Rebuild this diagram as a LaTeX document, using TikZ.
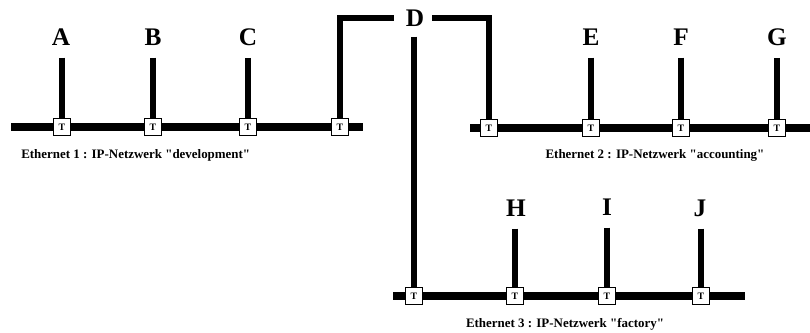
\documentclass[tikz,border=0pt]{standalone}
\usepackage{fontspec}
\setmainfont{Liberation Serif}
\usetikzlibrary{backgrounds, calc}
\tikzset{
  tap/.style={draw=black, line width=0.6pt, fill=white, minimum size=0.42cm,
    inner sep=0pt, font=\bfseries\fontsize{7}{8}\selectfont},
  host/.style={inner sep=0pt, font=\bfseries\fontsize{18}{20}\selectfont},
  bus/.style={line width=0.2cm, draw=black},
  stub/.style={line width=0.17cm, draw=black, shorten <=0.3cm},
  link/.style={line width=0.16cm, draw=black, line join=miter},
  netlabel/.style={inner sep=0pt, font=\bfseries\fontsize{9.2}{10}\selectfont},
}
\begin{document}
\begin{tikzpicture}[x=0.025cm, y=-0.025cm]
    \useasboundingbox (0,0) rectangle (810,333);
    % ethernet 1 : development
    \coordinate (n1w) at (11,127);
    \coordinate (n1e) at (363,127);
    \node[tap] (t1a) at (62,127) {T};
    \node[tap] (t1b) at (153,127) {T};
    \node[tap] (t1c) at (248,127) {T};
    \node[tap] (t1d) at (340,127) {T};
    \node[host] (A) at (61,37) {A};
    \node[host] (B) at (153,37) {B};
    \node[host] (C) at (248,37) {C};
    \node[netlabel, anchor=west] (net1) at (21,155) {Ethernet 1 : IP-Netzwerk \textquotedbl development\textquotedbl};
    % ethernet 2 : accounting
    \coordinate (n2w) at (470,128);
    \coordinate (n2e) at (812,128);
    \node[tap] (t2a) at (489,128) {T};
    \node[tap] (t2b) at (591,128) {T};
    \node[tap] (t2c) at (681,128) {T};
    \node[tap] (t2d) at (777,128) {T};
    \node[host] (E) at (591,37) {E};
    \node[host] (F) at (681,37) {F};
    \node[host] (G) at (777,37) {G};
    \node[netlabel] (net2) at (655,155) {Ethernet 2 : IP-Netzwerk \textquotedbl accounting\textquotedbl};
    % ethernet 3 : factory
    \coordinate (n3w) at (393,296);
    \coordinate (n3e) at (745,296);
    \node[tap] (t3a) at (414,296) {T};
    \node[tap] (t3b) at (515,296) {T};
    \node[tap] (t3c) at (607,296) {T};
    \node[tap] (t3d) at (701,296) {T};
    \node[host] (H) at (516,208) {H};
    \node[host] (I) at (607,207) {I};
    \node[host] (J) at (700,208) {J};
    \node[netlabel] (net3) at (565,324) {Ethernet 3 : IP-Netzwerk \textquotedbl factory\textquotedbl};
    % router
    \node[host] (D) at (415,18) {D};
    \begin{scope}[on background layer]
      \draw[bus] (n1w) -- (n1e);
      \draw[bus] (n2w) -- (n2e);
      \draw[bus] (n3w) -- (n3e);
      \draw[stub] (t1a.center |- A.south) -- (t1a.center);
      \draw[stub] (t1b.center |- B.south) -- (t1b.center);
      \draw[stub] (t1c.center |- C.south) -- (t1c.center);
      \draw[stub] (t2b.center |- E.south) -- (t2b.center);
      \draw[stub] (t2c.center |- F.south) -- (t2c.center);
      \draw[stub] (t2d.center |- G.south) -- (t2d.center);
      \draw[stub] (t3b.center |- H.south) -- (t3b.center);
      \draw[stub] (t3c.center |- I.south) -- (t3c.center);
      \draw[stub] (t3d.center |- J.south) -- (t3d.center);
      \draw[link, shorten <=0.3cm] (D.west) -| (t1d.center);
      \draw[link, shorten <=0.2cm] (D.east) -| (t2a.center);
      \draw[link, shorten <=0.25cm] (t3a.center |- D.south) -- (t3a.center);
    \end{scope}
  \end{tikzpicture}
\end{document}
